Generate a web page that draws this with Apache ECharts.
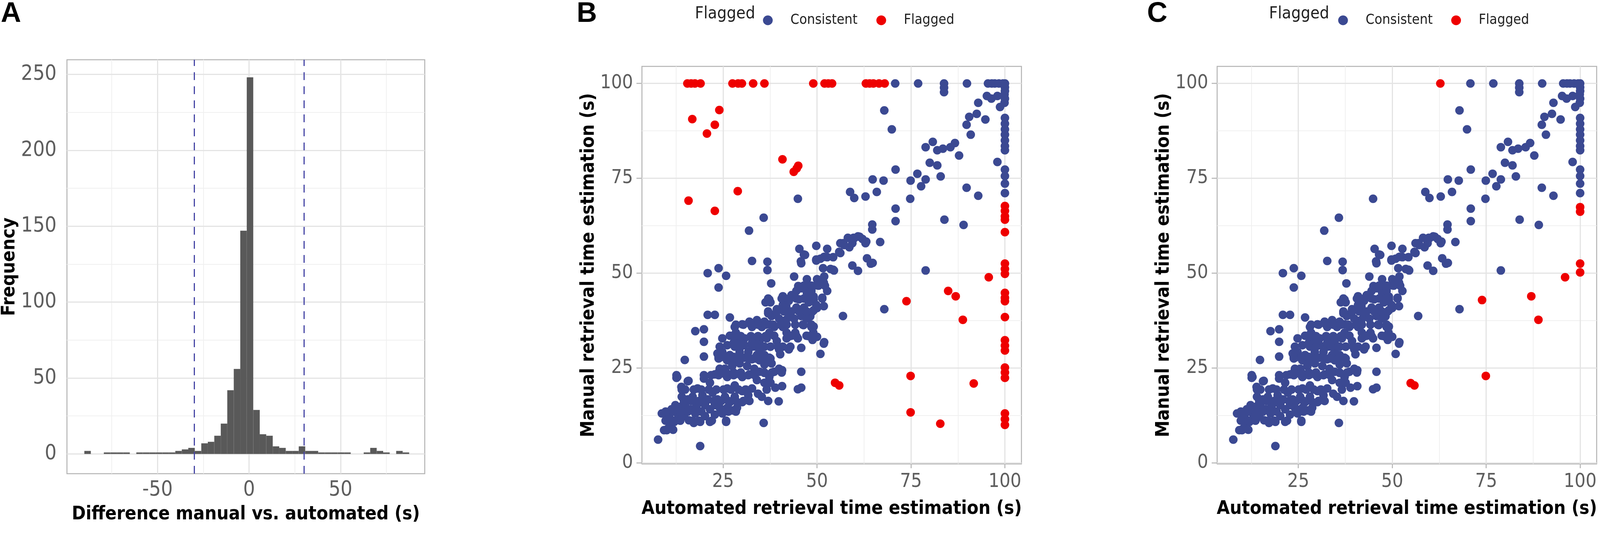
<!DOCTYPE html>
<html>
<head>
<meta charset="utf-8">
<title>Retrieval time comparison</title>
<script src="https://cdn.jsdelivr.net/npm/echarts@6.0.0/dist/echarts.min.js"></script>
<style>
  html, body { margin: 0; padding: 0; background: #fff; overflow: hidden; }
  #main { width: 100%; height: 1370px; }
</style>
</head>
<body>
<div id="main"></div>
<script>
// ---------- data ----------
// panel A: histogram of differences (bins of 3.55 s starting at -90 s)
var histStart = -90;
var histBinWidth = 3.55;
var histCounts = [2, 0, 0, 1, 1, 1, 1, 0, 1, 1,
                  1, 1, 1, 1, 2, 3, 4, 2, 7, 8,
                  12, 20, 42, 56, 147, 248, 29, 13, 12, 5,
                  4, 2, 2, 5, 2, 2, 1, 1, 1, 1,
                  1, 0, 0, 1, 4, 2, 1, 0, 2, 1];
var cutoffs = [-30, 30];
var histXTicks = [-50, 0, 50];
var histYTicks = [0, 50, 100, 150, 200, 250];

// panels B and C: [automated, manual]
var consistent = [
  [70.8,100],[76.9,100],[83.8,100],[83.8,98.9],[83.8,97.7],[89.9,100],
  [95.5,100],[96.5,100],[97.3,100],[98.4,100],[99.5,100],[100,100],[100,99],[100,98],
  [95.2,96.7],[96.4,96],[99.9,97.1],[100,96],[99.9,94.9],[98.7,93.8],[98,96.7],
  [92.9,94.9],[90.5,91.2],[92.5,92],[94.8,90.5],[89.8,89.1],[90.9,86.5],
  [100,90.9],[100,89.4],[100,87.9],[100,86.5],[100,85],[100,83.5],[100,82.4],
  [98,79.3],[100,77.3],[100,75.6],[100,73.6],[100,71.1],
  [78.9,83.2],[80.8,84.6],[82,82.4],[83.5,82.8],[85.5,83.2],[86.7,84.3],[87.8,81],
  [80,79.1],[82,78.4],[82.9,75.5],[70.9,77.3],
  [74.9,74.4],[76.7,76.2],[77.7,72.9],[78.9,74.7],[74.8,69.6],
  [89.8,72.5],[92.9,70.4],[67.9,92.9],[69.9,87.9],
  [64.8,74.7],[67.7,74.4],[65.9,71.4],[62.9,70.2],[58.8,71.4],[59.9,69.8],[44.9,69.6],
  [70.9,67],[70.9,63.7],[83.9,64.1],[89,62.7],
  [64.7,62.8],[64.7,61.5],[66.8,58.2],[78.9,50.7],[67.9,40.5],[56.9,38.7],
  [45.3,56.4],[46.5,54.9],[45.7,53.1],[49.8,57.2],[49.8,53.5],[52.7,56.4],[52.7,54.2],
  [54.3,54.2],[56.2,55.3],[57,57.9],[58.6,56.8],[59.7,59.3],[60.9,59.7],[62.1,59],
  [62.9,57.9],[59.4,52],[60.9,50.6],[63.3,53.9],[64.8,52.7],[51.6,51.3],[54.3,50.9],
  [51.9,49.1],[50,48.4],[56.2,57.9],[58.2,59.3],[59.4,57.9],
  [35.8,64.6],[31.9,61.2],
  [32.7,53.2],[36.8,53],[36.8,50.8],[37.8,47.3],[43.9,49.1],[45.8,52.6],[46.8,54.8],[49.8,53.3],
  [20.9,50],[23.8,51.3],[25.8,49.3],[23.8,46.2],
  [20.9,39],[22.8,39],[26.8,38.3],
  [17.6,34.7],[19.9,35.2],[19.9,31.9],[19.9,28],[14.8,27.1],[12.6,22.4],
  [7.7,6.1],[18.9,4.4],[25.8,10.8],[35.8,10.5],[39.8,16.2],[37,16.3],
  [45.8,30.3],[45.8,24],[44.9,19.4],[45.8,19.8],[38.9,19.8],[40.7,20.2],[40.2,28.6],[40.7,24.4],
  [50.9,28.7],[51.9,31.8],[48.6,33.6],[49.1,35.9],[51.8,41.3],[51.4,43.5],[52.7,45.3],
  [54.5,50.7],[49.8,53.6],[51.9,54.3],[55.9,55.6],[57.2,57.4],[59.9,59.2],[61.3,59.6],
  [63.1,58.3],[64.3,52.5],
  [45,46.6],[47.3,44.8],[49.1,43],[50,40.8],[48.2,38.6],[46.4,36.3],[50,33.2],[51.8,31.4],
  [47.3,48.4],[51.8,47.5],[53.6,51.1],[50.9,53.8],
  [37.3,43],[40.9,43.9],[41.8,41.3],[39.1,39.5],[41.8,37.7],
  [9.7,13.2],[10,8.6],[11,9.7],[12,10.8],[13,12.7],[14,14.9],[12.8,22.6],[13.9,20],
  [15.6,21.5],[14.9,19.3],[16.9,17.4],[16.3,14.1],[17.2,10.5],[18.9,10.8],[20.2,12.3],
  [21.5,10.8],[22.8,12.7],[24.1,14.5],[18.6,15.9],[19.5,17.8],[18.2,19.6],[19.9,22.2],
  [21.5,21.1],[22.8,23.3],[24.1,24.8],[22.2,18.5],[23.5,16.7],[25.5,17.4],[26.8,16],
  [28.7,14.5],[28.1,17.4],[30.1,16],[26.1,19.6],[28.1,20.4],[30.1,18.9],[31.7,17.8],
  [32.7,19.6],[34.3,18.2],[35.3,17.4],[36.6,19.3],[36,21.1],[34,21.8],[32,23.3],
  [30.1,22.6],[28.1,23.3],[26.1,22.6],[25.5,24.8],[27.4,25.5],[29.4,26.2],[31.4,25.5],
  [33.3,24.8],[34.7,24],[36,23.7],[37.3,22.6],[37.6,21.1],[38.6,24],[39.9,24.8],
  [37.9,26.2],[36,25.9],[34.7,27],[32.7,27.3],[30.7,27.7],[28.7,27],[26.1,27],
  [24.1,27.7],[23.5,28.8],[24.8,29.2],[26.8,28.4],[29.4,29.2],[31.7,29.2],[34,28.4],
  [36,28.4],[37.3,27.7],[24.1,30.6],[26.1,31],[28.1,30.6],[30.7,31],[32.7,30.6],
  [34.7,29.9],[36,30.6],[37.6,30.6],[24.8,32.8],[26.8,33.5],[28.7,32.8],[30.7,32.8],
  [32.7,32.8],[34.7,32.1],[36.6,32.8],[28.4,34.3],[28.1,35.8],[30.1,36.5],[32,37.2],
  [32.7,35.8],[34,37.6],[35.3,35.8],[36,37.2],[37.3,36.5],[37.3,34.3],[38.6,33.5],
  [39.3,32.1],[40.9,30.6],[39.9,29.9],[41.9,32.8],[43.2,33.5],[44.2,34.3],[44.9,32.8],
  [42.5,29.9],[37.9,38.7],[39.9,38],[41.2,37.2],[42.5,38.7],[43.9,38],[45.8,38.7],
  [47.2,38],[48.5,35.8],[48.8,33.5],[39.3,40.5],[40.9,41.6],[42.5,42.7],[40.9,43.8],
  [43.2,44.2],[45.2,43.1],[44.5,40.9],[46.5,40.9],[47.8,42.3],[49.1,43.8],[48.5,45.3],
  [49.8,46.8],[47.2,46.8],[45.8,46],[44.5,45.3],[49.1,40.2],[49.8,41.6],[37.6,42.3],
  [37,39.4],[36.3,42.3],
  [38.6,35.8],[40.9,35.8],[41.9,34.3],[44.2,34],[47.2,33.5],[48.8,32.4],[49,34.3],
  [10.7,12],[11.3,14.1],[12.3,15.2],[14,17.4],[15.6,16.7],[14.6,12.3],[15.9,11.2],
  [14.9,15.2],[17.6,13],[17.9,14.9],[20.2,15.2],[21.5,14.1],[20.9,16.7],[22.8,15.2],
  [24.8,13],[26.1,14.5],[27.4,13.8],[9.3,8.6],[10.3,9],[8.7,13],
  // dense core, lower part
  [23.8,27.9],[25.8,27.9],[27.8,27.9],[29.7,27.9],[31.7,27.9],[33.7,27.9],
  [27.8,31.6],[29.7,31.6],[32.7,31.6],
  [12.6,23.1],[19.9,23.1],[21.8,23.1],[23.8,23.1],[25.8,23.1],[27.8,23.1],[29.7,23.1],
  [31.7,23.1],[33.4,23.1],[15.8,21.6],
  [14,19.3],[17.2,19.3],[19.2,19.3],[21.2,19.3],[23.2,19.3],[25.1,19.3],[27.1,19.3],
  [29.1,19.3],[31,19.3],
  [14.6,16.3],[16.6,16.3],[18.6,16.3],[20.5,16.3],[22.5,16.3],[24.5,16.3],[26.4,16.3],
  [28.4,16.3],[30.4,16.3],[32,16.3],
  [9.7,13.5],[11.7,13.5],[13.6,13.5],[15.6,13.5],[17.6,13.5],[19.2,13.5],[24.5,13.5],
  [26.4,13.5],[28.4,13.5],
  [9.7,11.1],[11.7,11.1],[13.6,11.1],[16.9,11.1],[18.6,11.1],[22,11.1],[25.8,11.1],
  [10,8.7],[11.7,8.7],
  // dense core, upper part
  [46.5,46.7],[48.5,46.7],[50.4,46.7],[52.1,46.7],
  [37,43.3],[40.6,43.3],[42.6,43.3],[44.5,43.3],[46.5,43.3],[48.5,43.3],[51.4,43.3],
  [37,39.9],[39.3,39.9],[41.2,39.9],[43.2,39.9],[45.2,39.9],[47.2,39.9],[48.8,39.9],
  [28.4,36.4],[30.4,36.4],[32.4,36.4],[34.3,36.4],[36.3,36.4],[38.3,36.4],[40.3,36.4],
  [41.9,36.4],[44.2,36.4],[46.2,36.4],[48.5,36.4],
  [27.8,33.4],[29.7,33.4],[32.4,33.4],[34.3,33.4],[36.3,33.4],[42.6,33.4],[44.5,33.4],
  [47.8,33.4],
  [29.7,30.6],[33.7,30.6],[35.7,30.6],[37.6,30.6],[39.6,30.6],[42.9,30.6],
  [23.8,27.5],[25.8,27.5],[27.8,27.5],[29.7,27.5],[31.7,27.5],[33.7,27.5],[35.7,27.5],
  [37.6,27.5],
  [23.8,23.8],[25.8,23.8],[27.8,23.8],[29.7,23.8],[33.7,23.8],[36,23.8],[38,23.8],[40.6,23.8]
];

// flagged points in panel B (before correction)
var flaggedB = [
  [15.5,100],[16.5,100],[17.5,100],[19,100],[27.5,100],[29,100],[30,100],[33,100],[36,100],
  [49,100],[52,100],[53,100],[54,100],[63,100],[64,100],[65,100],[66.5,100],[68,100],
  [16.8,90.6],[20.7,86.8],[22.8,89.1],[24,93],[15.8,69.1],[22.8,66.4],[28.9,71.6],
  [40.8,80],[43.8,76.7],[45,78.3],[44.6,77.6],
  [73.8,42.6],[84.9,45.3],[86.9,43.9],[88.8,37.7],[95.7,48.9],
  [54.8,21.1],[55.9,20.4],[74.9,22.9],[74.9,13.3],[82.8,10.3],[91.7,20.9],
  [100,67.7],[100,66.4],[100,65],[100,64.1],[100,60.8],[100,52.5],[100,51.1],[100,49.8],
  [100,44.8],[100,43.5],[100,42.6],[100,38.4],[100,32.3],[100,30.9],[100,29.6],
  [100,25.1],[100,23.8],[100,22.4],[100,13],[100,11.5],[100,10]
];

// flagged points remaining in panel C
var flaggedC = [
  [62.8,100],[100,67.4],[100,66.2],[100,52.5],[100,50.2],[96,48.9],
  [73.9,42.9],[87,43.9],[88.9,37.7],[54.9,21],[55.9,20.4],[74.9,22.9]
];

var scatterTicks = [25, 50, 75, 100];
var scatterYTicks = [0, 25, 50, 75, 100];

// ---------- fonts ----------
var measureCtx = document.createElement('canvas').getContext('2d');
var SAMPLE = 'Automated retrieval 0123456789';
function textWidth(font) { measureCtx.font = font; return measureCtx.measureText(SAMPLE).width; }
function hasFont(name) {
  return ['monospace', 'serif'].some(function (base) {
    return textWidth('72px ' + base) !== textWidth('72px "' + name + '", ' + base);
  });
}
var NARROW = ['Liberation Sans Narrow', 'Arial Narrow', 'DejaVu Sans Condensed'].filter(hasFont)[0] || 'Liberation Sans';
// the figure uses a narrow sans; scale sizes so widths follow Arial Narrow
var fontK = 0.82 * textWidth('72px "Liberation Sans"') / textWidth('72px "' + NARROW + '"');
function fs(v) { return Math.round(v * fontK); }

// ---------- style ----------
var BLUE = '#3B4992';
var RED = '#EE0000';
var GRID_MAJOR = '#e4e4e4';
var GRID_MINOR = '#f0f0f0';
var TICK_GRAY = '#b3b3b3';
var LABEL_GRAY = '#5e5e5e';

var chart = echarts.init(document.getElementById('main'), null, { renderer: 'canvas' });
// layout numbers below are measured on the 4317 px wide figure
var S = chart.getWidth() / 4317;
function X(v) { return v * S; }

// grid lines drawn through the axes scale (markLine on an empty series)
function gridLines(idx, majorX, minorX, majorY, minorY) {
  var d = [];
  minorX.forEach(function (v) { d.push({ xAxis: v, lineStyle: { color: GRID_MINOR, width: 2, type: 'solid' } }); });
  minorY.forEach(function (v) { d.push({ yAxis: v, lineStyle: { color: GRID_MINOR, width: 2, type: 'solid' } }); });
  majorX.forEach(function (v) { d.push({ xAxis: v, lineStyle: { color: GRID_MAJOR, width: 3, type: 'solid' } }); });
  majorY.forEach(function (v) { d.push({ yAxis: v, lineStyle: { color: GRID_MAJOR, width: 3, type: 'solid' } }); });
  return {
    type: 'line', xAxisIndex: idx, yAxisIndex: idx, data: [], silent: true,
    markLine: { z: 1, silent: true, animation: false, symbol: ['none', 'none'], label: { show: false }, data: d }
  };
}

function valueAxis(idx, min, max, ticks, name, nameGap, labelSize, margin) {
  return {
    type: 'value', gridIndex: idx, min: min, max: max,
    splitLine: { show: false },
    axisLine: { show: false },
    axisTick: { show: true, length: 14, customValues: ticks, lineStyle: { color: TICK_GRAY, width: 2.5 } },
    // tick labels are short, so they follow the reference height rather than width
    axisLabel: { customValues: ticks, margin: margin, color: LABEL_GRAY, fontSize: Math.round(fs(labelSize) * 1.12), fontFamily: NARROW },
    name: name, nameLocation: 'middle', nameGap: nameGap,
    nameTextStyle: { fontSize: fs(61), fontWeight: 'bold', color: '#000', fontFamily: NARROW }
  };
}

function scatterSeries(name, idx, data, color, z) {
  return {
    name: name, type: 'scatter', xAxisIndex: idx, yAxisIndex: idx, data: data,
    symbol: 'circle', symbolSize: 22, z: z,
    itemStyle: { color: color, opacity: 1 }
  };
}

// one legend per key so each sits where ggplot put it
var KEY_W = 2 * (X(61) - 5);
function legendKey(name, dotCenter) {
  return {
    left: X(dotCenter) - KEY_W / 2, top: 29, icon: 'circle',
    itemWidth: KEY_W, itemHeight: 25, selectedMode: false,
    data: [name],
    textStyle: { fontSize: fs(46), color: '#222', fontFamily: NARROW }
  };
}

function panelLetter(text, left) {
  return { text: text, left: X(left), top: 0, padding: 0,
    textStyle: { fontSize: 72, fontWeight: 'bold', color: '#000', fontFamily: 'Liberation Sans' } };
}

function legendTitle(left) {
  return { text: 'Flagged', left: X(left), top: 14, padding: 0,
    textStyle: { fontSize: fs(55), fontWeight: 'normal', color: '#222', fontFamily: NARROW } };
}

var histData = histCounts.map(function (c, i) {
  return [histStart + i * histBinWidth, histStart + (i + 1) * histBinWidth, c];
});

var option = {
  backgroundColor: '#fff',
  animation: false,
  title: [
    panelLetter('A', 2), panelLetter('B', 1556), panelLetter('C', 3095),
    legendTitle(1875), legendTitle(3424)
  ],
  legend: [
    legendKey('Consistent', 2109), legendKey('Flagged', 2415),
    legendKey('Consistent', 3661), legendKey('Flagged', 3966)
  ],
  grid: [
    { left: X(178), top: 153, width: X(968), height: 1060, show: true, borderColor: TICK_GRAY, borderWidth: 2.5, backgroundColor: '#fff' },
    { left: X(1732), top: 170, width: X(1024), height: 1018, show: true, borderColor: TICK_GRAY, borderWidth: 2.5, backgroundColor: '#fff' },
    { left: X(3284), top: 170, width: X(1024), height: 1018, show: true, borderColor: TICK_GRAY, borderWidth: 2.5, backgroundColor: '#fff' }
  ],
  xAxis: [
    valueAxis(0, -99.5, 96, histXTicks, 'Difference manual vs. automated (s)', 81, 59, 16),
    valueAxis(1, 3.4, 104.4, scatterTicks, 'Automated retrieval time estimation (s)', 92, 56, 22),
    valueAxis(2, 3.4, 104.4, scatterTicks, 'Automated retrieval time estimation (s)', 92, 56, 22)
  ],
  yAxis: [
    valueAxis(0, -13, 259.6, histYTicks, 'Frequency', X(129), 59, X(28)),
    valueAxis(1, -0.3, 104.5, scatterYTicks, 'Manual retrieval time estimation (s)', X(118), 56, X(24)),
    valueAxis(2, -0.3, 104.5, scatterYTicks, 'Manual retrieval time estimation (s)', X(118), 56, X(24))
  ],
  series: [
    gridLines(0, [-50, 0, 50], [-75, -25, 25, 75], histYTicks, [25, 75, 125, 175, 225]),
    gridLines(1, scatterTicks, [12.5, 37.5, 62.5, 87.5], scatterYTicks, [12.5, 37.5, 62.5, 87.5]),
    gridLines(2, scatterTicks, [12.5, 37.5, 62.5, 87.5], scatterYTicks, [12.5, 37.5, 62.5, 87.5]),
    {
      type: 'custom', xAxisIndex: 0, yAxisIndex: 0, z: 2,
      data: histData,
      encode: { x: [0, 1], y: 2 },
      renderItem: function (params, api) {
        var p0 = api.coord([api.value(0), api.value(2)]);
        var p1 = api.coord([api.value(1), 0]);
        return {
          type: 'rect',
          shape: { x: p0[0], y: p0[1], width: p1[0] - p0[0], height: p1[1] - p0[1] },
          style: { fill: '#595959' }
        };
      },
      markLine: {
        z: 6, silent: true, animation: false, symbol: ['none', 'none'], label: { show: false },
        lineStyle: { color: '#4747a6', width: 3, type: [20, 16] },
        data: cutoffs.map(function (v) { return { xAxis: v }; })
      }
    },
    scatterSeries('Consistent', 1, consistent, BLUE, 3),
    scatterSeries('Flagged', 1, flaggedB, RED, 4),
    scatterSeries('Consistent', 2, consistent, BLUE, 3),
    scatterSeries('Flagged', 2, flaggedC, RED, 4)
  ]
};

chart.setOption(option);
</script>
</body>
</html>
